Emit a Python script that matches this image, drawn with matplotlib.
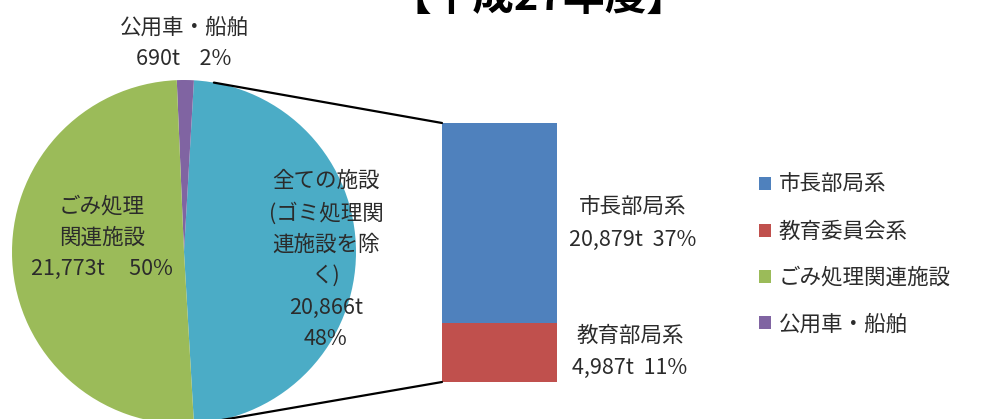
import numpy as np
import matplotlib
matplotlib.use("Agg")
from matplotlib import pyplot as plt
from matplotlib.patches import ConnectionPatch, Patch

plt.rcParams['font.family'] = ['Noto Sans CJK JP', 'DejaVu Sans']

# pie (counter-clockwise from the split slice)
pie_names = ['全ての施設(ゴミ処理関連施設を除く)', '公用車・船舶', 'ごみ処理関連施設']
pie_values = [20866, 690, 21773]
pie_labels = ['全ての施設\n(ゴミ処理関\n連施設を除\nく)\n20,866t\n48%',
              '公用車・船舶\n690t    2%',
              'ごみ処理\n関連施設\n21,773t     50%']
pie_colors = ['#4BACC6', '#8064A2', '#9BBB59']

# bar (split of the first slice)
bar_names = ['教育部局系', '市長部局系']
bar_pct = [11, 37]
bar_labels = ['教育部局系\n4,987t  11%', '市長部局系\n20,879t  37%']
bar_colors = ['#C0504D', '#4F81BD']

legend_names = ['市長部局系', '教育委員会系', 'ごみ処理関連施設', '公用車・船舶']
legend_colors = ['#4F81BD', '#C0504D', '#9BBB59', '#8064A2']

title = '【平成27年度】'
text_color = '#2b2b2b'
fs = 15.5

W, H = 1008, 419
fig = plt.figure(figsize=(W / 100, H / 100), dpi=100)


def px_axes(x0, y0, x1, y1):
    # pixel box (top-left origin) -> axes
    return fig.add_axes([x0 / W, 1 - y1 / H, (x1 - x0) / W, (y1 - y0) / H])


# pie
ax1 = px_axes(12, 80, 356, 424)
split_angle = 360 * pie_values[0] / sum(pie_values)
ax1.pie(pie_values, colors=pie_colors, startangle=-split_angle / 2,
        counterclock=True, radius=1, wedgeprops=dict(linewidth=0))
ax1.set_xlim(-1, 1)
ax1.set_ylim(-1, 1)
ax1.axis('off')

# pie labels in pixel positions
fig.text(326 / W, 1 - 260 / H, pie_labels[0], ha='center', va='center',
         fontsize=fs, color=text_color, linespacing=1.55, multialignment='center')
fig.text(184 / W, 1 - 43 / H, pie_labels[1], ha='center', va='center',
         fontsize=fs, color=text_color, linespacing=1.55, multialignment='center')
fig.text(102 / W, 1 - 238 / H, pie_labels[2], ha='center', va='center',
         fontsize=fs, color=text_color, linespacing=1.55, multialignment='center')

# bar
ax2 = px_axes(442, 123, 557, 382)
bottom = 0
for pct, col in zip(bar_pct, bar_colors):
    ax2.bar(0, pct, width=1, bottom=bottom, color=col, linewidth=0)
    bottom += pct
ax2.set_xlim(-0.5, 0.5)
ax2.set_ylim(0, sum(bar_pct))
ax2.axis('off')

fig.text(630 / W, 1 - 352 / H, bar_labels[0], ha='center', va='center',
         fontsize=fs, color=text_color, linespacing=1.55)
fig.text(633 / W, 1 - 224 / H, bar_labels[1], ha='center', va='center',
         fontsize=fs, color=text_color, linespacing=1.55)

# connector lines
for ang, ybar in [(80, sum(bar_pct)), (-80, 0)]:
    t = np.deg2rad(ang)
    con = ConnectionPatch(xyA=(np.cos(t), np.sin(t)), coordsA=ax1.transData,
                          xyB=(-0.5, ybar), coordsB=ax2.transData,
                          color='black', linewidth=1.6)
    fig.add_artist(con)

# legend
handles = [Patch(facecolor=c, edgecolor='none') for c in legend_colors]
fig.legend(handles, legend_names, loc='upper left',
           bbox_to_anchor=(740 / W, 1 - 155 / H), frameon=False,
           fontsize=fs, handlelength=0.55, handleheight=0.55,
           handletextpad=0.35, labelspacing=1.13, labelcolor=text_color)

# title (cut off at the top like the reference)
fig.text(539 / W, 1 - 10 / H, title, ha='center', va='baseline',
         fontsize=30, fontweight='bold', color='black')

fig.savefig('out.png', dpi=100, facecolor='white')
